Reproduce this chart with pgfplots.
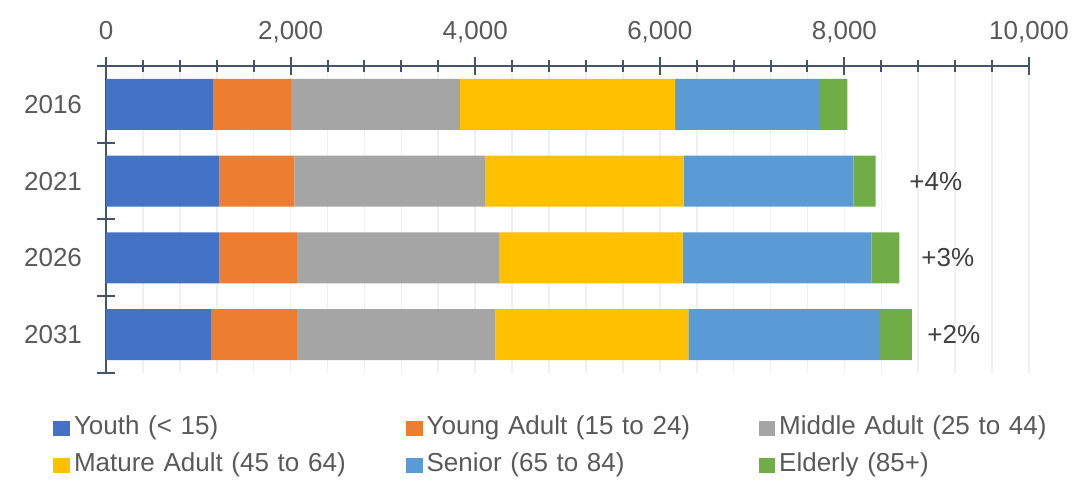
\documentclass[border=0pt]{standalone}
\usepackage{pgfplots}
\usepackage{pgfplotstable}
\pgfplotsset{compat=1.18}
\usepackage{fontspec}
\setmainfont{Liberation Sans}

\definecolor{axisline}{HTML}{44546A}
\definecolor{labelgray}{HTML}{595959}
\definecolor{notegray}{HTML}{404040}
\definecolor{cYouth}{HTML}{4472C4}
\definecolor{cYoung}{HTML}{ED7D31}
\definecolor{cMiddle}{HTML}{A5A5A5}
\definecolor{cMature}{HTML}{FFC000}
\definecolor{cSenior}{HTML}{5B9BD5}
\definecolor{cElderly}{HTML}{70AD47}

% Population by age group; pos = bar position (2016 on top)
\pgfplotstableread{
pos year youth young middle mature senior elderly
3 2016 1159 845 1831 2330 1571 296
2 2021 1228 812 2066 2153 1838 242
1 2026 1228 841 2189 1990 2044 303
0 2031 1145 924 2149 2091 2077 346
}\popdata

\begin{document}
\fontsize{13}{15.6}\selectfont
\begin{tikzpicture}
\useasboundingbox (-53pt,-58.5pt) rectangle (491pt,186.5pt);
\begin{axis}[
  at={(0pt,0pt)}, anchor=south west,
  scale only axis, width=461.5pt, height=153.5pt,
  xbar stacked, bar width=0.665,
  xmin=0, xmax=10000, ymin=-0.5, ymax=3.5,
  axis x line=top, axis y line=left,
  axis line style={-, axisline, line width=1pt},
  xtick={0,2000,...,10000}, minor x tick num=4,
  ytick={-0.5,0.5,1.5,2.5,3.5}, yticklabels={},
  extra y ticks={0,1,2,3},
  extra y tick labels={2031,2026,2021,2016},
  extra y tick style={major tick length=0pt, tick style={draw=none}},
  tick align=center,
  major tick length=8.8pt, minor tick length=5.8pt,
  tick style={axisline, line width=1pt},
  xmajorgrids, xminorgrids,
  major grid style={gray!12, line width=0.8pt},
  minor grid style={gray!12, line width=0.8pt},
  /pgf/number format/assume math mode=true,
  /pgf/number format/1000 sep={,},
  scaled x ticks=false,
  tick label style={text=labelgray},
  xticklabel style={text height=9.5pt, text depth=3pt, yshift=1.5pt},
  yticklabel style={xshift=-7.5pt},
  legend columns=3,
  legend cell align=left,
  legend image code/.code={\fill[#1] (0pt,-3.6pt) rectangle (8.3pt,3.6pt);},
  legend style={draw=none, fill=none, inner sep=0pt,
    at={(-0.0574,-0.119)}, anchor=north west,
    text=labelgray,
    nodes={inner xsep=2pt, inner ysep=3pt, text height=9.5pt, text depth=3pt,
           text width=160pt},
    /tikz/every odd column/.append style={column sep=0pt},
    /tikz/every even column/.append style={column sep=4pt}},
]
\addplot[fill=cYouth, draw=none] table[x=youth, y=pos] {\popdata};
\addplot[fill=cYoung, draw=none] table[x=young, y=pos] {\popdata};
\addplot[fill=cMiddle, draw=none] table[x=middle, y=pos] {\popdata};
\addplot[fill=cMature, draw=none] table[x=mature, y=pos] {\popdata};
\addplot[fill=cSenior, draw=none] table[x=senior, y=pos] {\popdata};
\addplot[fill=cElderly, draw=none] table[x=elderly, y=pos] {\popdata};
\legend{Youth (< 15), Young Adult (15 to 24), Middle Adult (25 to 44),
        Mature Adult (45 to 64), Senior (65 to 84), Elderly (85+)}
\node[anchor=west, text=notegray, inner sep=0pt] at (axis cs:8700,2) {+4\%};
\node[anchor=west, text=notegray, inner sep=0pt] at (axis cs:8830,1) {+3\%};
\node[anchor=west, text=notegray, inner sep=0pt] at (axis cs:8895,0) {+2\%};
\end{axis}
\end{tikzpicture}
\end{document}
